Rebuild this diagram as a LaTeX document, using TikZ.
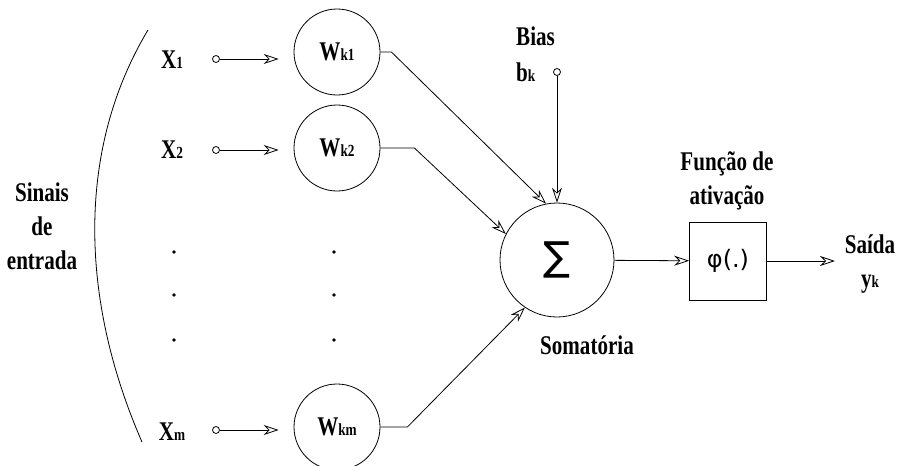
\documentclass[tikz,border=0pt]{standalone}
\usepackage{fontspec}
\usepackage{tikz}
\usetikzlibrary{positioning, arrows.meta}

\newfontfamily\slabfont[FakeStretch=0.78]{Liberation Serif}
\newfontfamily\symbfont{DejaVu Sans}
\newcommand{\idx}[1]{{\fontsize{17}{17}\selectfont #1}}

\begin{document}
\begin{tikzpicture}[
    x=1pt, y=-1pt,
    >={Stealth[open, length=15pt, width=10pt, inset=5pt]},
    every node/.style={font=\slabfont\bfseries\fontsize{27}{34}\selectfont},
    lbl/.style={align=center, inner sep=0pt},
    port/.style={circle, draw, line width=0.8pt, inner sep=0pt, minimum size=7pt},
    weight/.style={circle, draw, line width=0.8pt, inner sep=0pt, minimum size=86pt},
    sumnode/.style={
        circle, draw, line width=0.8pt, inner sep=0pt, minimum size=114pt,
        font=\symbfont\fontsize{40}{40}\selectfont
    },
    actbox/.style={
        draw, line width=0.8pt, minimum width=77pt, minimum height=78pt,
        font=\symbfont\fontsize{24}{24}\selectfont
    },
    arrow/.style={->, line width=0.8pt},
]
\useasboundingbox (0,0) rectangle (898,466);

% --- Sinais de entrada ---
\node[lbl] (sinais) at (42,226) {Sinais\\de\\entrada};
\draw[line width=0.8pt] (148,30) .. controls (76,150) and (80,300) .. (142,442);

% --- Entrada 1 ---
\node[lbl] (x1) at (172,60) {X\idx{1}};
\node[port] (p1) at (216,59) {};
\node[weight] (w1) at (337,52) {W\idx{k1}};
\draw[arrow, shorten >=15pt] (p1) -- (p1 -| w1.west);

% --- Entrada 2 ---
\node[lbl] (x2) at (172,150) {X\idx{2}};
\node[port] (p2) at (216,150) {};
\node[weight] (w2) at (337,148) {W\idx{k2}};
\draw[arrow, shorten >=15pt] (p2) -- (p2 -| w2.west);

% --- Entrada m ---
\node[lbl] (xm) at (172,432) {X\idx{m}};
\node[port] (pm) at (216,430) {};
\node[weight] (wm) at (337,427) {W\idx{km}};
\draw[arrow, shorten >=15pt] (pm) -- (pm -| wm.west);

% --- reticencias ---
\foreach \yy in {252,295,340} {
    \fill (174,\yy) circle (1.8);
    \fill (334,\yy) circle (1.8);
}

% --- Somatoria ---
\node[sumnode] (s) at (557,260) {∑};
\node[lbl] (soma) at (587,345) {Somatória};
\draw[arrow] (w1.east) -- ++(11,0) -- (s.101);
\draw[arrow] (w2.east) -- ++(34,0) -- (s.153);
\draw[arrow] (wm.east) -- ++(27,0) -- (s.236);

% --- Bias ---
\node[lbl, anchor=west] (bias) at (516,36) {Bias};
\node[lbl, anchor=west] (bk) at (516,72) {b\idx{k}};
\node[port] (pb) at (557,72) {};
\draw[arrow] (pb) -- (s);

% --- Funcao de ativacao ---
\node[actbox] (phi) at (728,261) {φ(.)};
\node[lbl] (func) at (727,181) {Função de\\ativação};
\draw[arrow] (s) -- (phi);

% --- Saida ---
\coordinate (out) at (835,261);
\node[lbl] (saida) at (870,264) {Saída\\y\idx{k}};
\draw[arrow] (phi) -- (out);

\end{tikzpicture}
\end{document}
